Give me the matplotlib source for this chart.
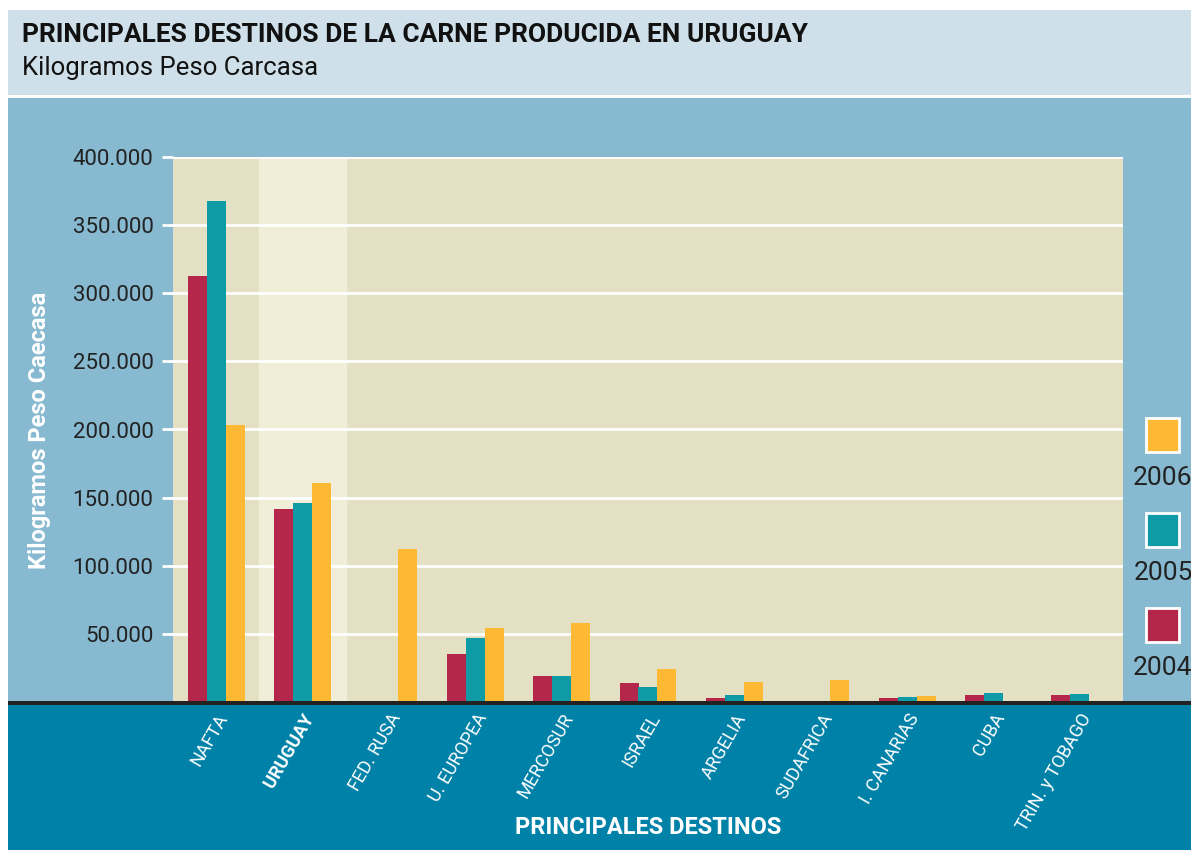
import numpy as np
import matplotlib
matplotlib.use("Agg")
import matplotlib.pyplot as plt
from matplotlib import font_manager
from matplotlib.patches import Rectangle
from matplotlib.ticker import FuncFormatter

# pick a narrow family if one is installed
names = {f.name for f in font_manager.fontManager.ttflist}
narrow = [n for n in ['Liberation Sans Narrow', 'DejaVu Sans Condensed', 'Roboto'] if n in names]
plt.rcParams['font.family'] = narrow + ['DejaVu Sans']

# data (kg peso carcasa)
destinos = ['NAFTA', 'URUGUAY', 'FED. RUSA', 'U. EUROPEA', 'MERCOSUR', 'ISRAEL',
            'ARGELIA', 'SUDAFRICA', 'I. CANARIAS', 'CUBA', 'TRIN. y TOBAGO']
v2004 = [313000, 142000, 0, 35000, 19000, 14000, 3000, 0, 3000, 5000, 5000]
v2005 = [368000, 146000, 0, 47000, 19000, 11000, 5000, 0, 3500, 6500, 6000]
v2006 = [203000, 161000, 112000, 54000, 58000, 24000, 14500, 16000, 4500, 0, 0]
years = ['2004', '2005', '2006']
yticks = [50000, 100000, 150000, 200000, 250000, 300000, 350000, 400000]

c_red, c_teal, c_yel = '#b5264b', '#0e9ba5', '#fdb933'

W, H = 1191, 850
fig = plt.figure(figsize=(W / 100, H / 100), dpi=100)
fig.patch.set_facecolor('white')

def px_rect(x0, y0, x1, y1, color, z=-5):
    fig.patches.append(Rectangle((x0 / W, 1 - y1 / H), (x1 - x0) / W, (y1 - y0) / H,
                                 transform=fig.transFigure, facecolor=color,
                                 edgecolor='none', zorder=z))

px_rect(8, 10, W, 95, '#cfe0ea')
px_rect(8, 98, W, 704, '#87b9d0')
px_rect(8, 704, W, 850, '#0081a7')
px_rect(8, 701, W, 705, '#222222', z=10)   # dark baseline across the whole panel

fig.text(22 / W, 1 - 35 / H, 'PRINCIPALES DESTINOS DE LA CARNE PRODUCIDA EN URUGUAY',
         fontsize=19, fontweight='bold', color='#111111', va='center', ha='left')
fig.text(22 / W, 1 - 68 / H, 'Kilogramos Peso Carcasa',
         fontsize=18.5, color='#111111', va='center', ha='left')

ax = fig.add_axes([173 / W, 1 - 702 / H, 950 / W, 545 / H])
ax.set_facecolor('#e4e0c4')
ax.axvspan(0.5, 1.5, color='#f0edd8', zorder=0)

x = np.arange(len(destinos))
bw = 0.22
ax.bar(x - bw, v2004, bw, color=c_red, zorder=3)
ax.bar(x, v2005, bw, color=c_teal, zorder=3)
ax.bar(x + bw, v2006, bw, color=c_yel, zorder=3)

ax.set_xlim(-0.5, len(destinos) - 0.5)
ax.set_ylim(0, 400000)
ax.set_yticks(yticks)
ax.yaxis.set_major_formatter(FuncFormatter(lambda v, p: f'{int(v):,}'.replace(',', '.')))
for y in yticks:
    ax.axhline(y, color='white', lw=2, zorder=1)
ax.tick_params(axis='y', length=8, width=2, color='white', labelsize=16,
               labelcolor='#222222', pad=6)
for s in ax.spines.values():
    s.set_visible(False)

ax.set_xticks(x)
ax.set_xticklabels(destinos, rotation=60, ha='right', va='top',
                   rotation_mode='anchor', color='white', fontsize=13)
ax.tick_params(axis='x', length=0, pad=6)
ax.get_xticklabels()[1].set_fontweight('bold')

fig.text(40 / W, 1 - 430 / H, 'Kilogramos Peso Caecasa', rotation=90,
         fontsize=17, fontweight='bold', color='white', ha='center', va='center')
fig.text(648 / W, 1 - 828 / H, 'PRINCIPALES DESTINOS', fontsize=17,
         fontweight='bold', color='white', ha='center', va='center')

# legend: squares with labels underneath
for col, lab, ytop in [(c_yel, '2006', 418), (c_teal, '2005', 513), (c_red, '2004', 608)]:
    fig.patches.append(Rectangle((1146 / W, 1 - (ytop + 34) / H), 33 / W, 34 / H,
                                 transform=fig.transFigure, facecolor=col,
                                 edgecolor='white', lw=2, zorder=5))
    fig.text(1163 / W, 1 - (ytop + 60) / H, lab, fontsize=19, color='#222222',
             ha='center', va='center')

fig.savefig('out.png', dpi=100)
